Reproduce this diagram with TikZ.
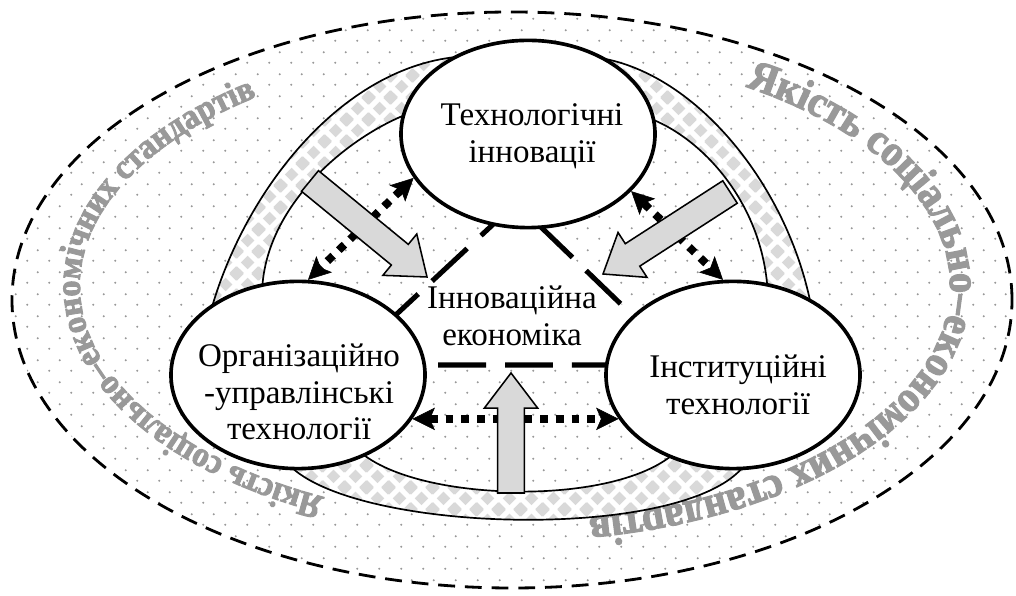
\documentclass[tikz,border=0pt]{standalone}
\usepackage{fontspec}
\setmainfont{Liberation Serif}
\newfontfamily\wordartfam{Liberation Serif}[FakeStretch=0.92, FakeBold=2.6]
\usetikzlibrary{shapes.geometric,patterns,calc,arrows.meta,decorations.text}

\definecolor{wordgray}{gray}{0.6}
\definecolor{dotgray}{gray}{0.6}
\definecolor{checkgray}{gray}{0.85}
\definecolor{arrowgray}{gray}{0.85}

\newcommand{\wordartfont}[1]{\fontsize{#1}{#1}\wordartfam\bfseries\color{wordgray}}
\newcommand{\nodefont}{\fontsize{23.5}{26}\selectfont}

% staggered dots of the outer field
\pgfdeclarepatternformonly{sparsedots}{\pgfpointorigin}{\pgfpoint{15.3pt}{15.3pt}}{\pgfpoint{15.3pt}{15.3pt}}{%
  \pgfpathcircle{\pgfpoint{3.8pt}{3.8pt}}{0.85pt}%
  \pgfpathcircle{\pgfpoint{11.45pt}{11.45pt}}{0.85pt}%
  \pgfusepath{fill}}

% diamonds of the bands
\newcommand{\checkdiamond}[2]{%
  \pgfpathmoveto{\pgfpoint{#1pt}{#2pt-4.9pt}}%
  \pgfpathlineto{\pgfpoint{#1pt+4.9pt}{#2pt}}%
  \pgfpathlineto{\pgfpoint{#1pt}{#2pt+4.9pt}}%
  \pgfpathlineto{\pgfpoint{#1pt-4.9pt}{#2pt}}%
  \pgfpathclose}
\pgfdeclarepatternformonly{checkers}{\pgfpointorigin}{\pgfpoint{15.3pt}{15.3pt}}{\pgfpoint{15.3pt}{15.3pt}}{%
  \checkdiamond{0}{0}\checkdiamond{15.3}{0}\checkdiamond{0}{15.3}\checkdiamond{15.3}{15.3}%
  \checkdiamond{7.65}{7.65}%
  \pgfusepath{fill}}

\begin{document}
\begin{tikzpicture}[x=0.025cm, y=0.025cm, %
    innov/.style={ellipse, draw, line width=2.6pt, fill=white, minimum width=6.35cm, minimum height=4.68cm, inner sep=0pt}, %
    caption/.style={align=center, font=\nodefont, inner sep=0pt}, %
    band/.style={line width=1.2pt, preaction={fill=white}, pattern=checkers, pattern color=checkgray}, %
    triside/.style={line width=3.6pt, dash pattern=on 34pt off 13.5pt, fill=white}, %
    dotarrow/.style={line width=5.6pt, dash pattern=on 5.6pt off 5.6pt, %
      {Stealth[length=16pt,width=16pt,inset=3.5pt,line width=0.4pt]}-{Stealth[length=16pt,width=16pt,inset=3.5pt,line width=0.4pt]}}, %
    bigarrow/.style={fill=arrowgray, draw, line width=1.1pt, line join=miter}, %
  ]
  \useasboundingbox (0,0) rectangle (1016,596);

  % field and its words
  \draw[line width=2pt, dash pattern=on 12pt off 7pt, preaction={fill=white}, pattern=sparsedots, pattern color=dotgray] (512,296) ellipse [x radius=500, y radius=288];

  \coordinate (wordc) at (515,310);
  \foreach \s/\size in {58/31, 244/25}{ %
    \path[decorate, decoration={text along path, text align=left, text={|\wordartfont{\size}|Якість соціально–економічних стандартів}}] %
      ($(wordc)+(\s:435 and 235)$) arc[start angle=\s, delta angle=-175, x radius=435, y radius=235];
  }

  % bands between the ellipses
  \draw[band] (475,540) .. controls (350,540) and (245,410) .. (210,282) %
    -- (262,300) .. controls (262,395) and (360,470) .. (425,488) -- cycle;
  \draw[band] (582,540) .. controls (690,535) and (790,410) .. (812,285) %
    -- (768,298) .. controls (765,400) and (690,470) .. (635,482) -- cycle;
  \draw[band] (282,140) .. controls (330,60) and (710,50) .. (750,140) %
    -- (685,155) .. controls (640,85) and (395,90) .. (350,155) -- cycle;

  % triangle
  \coordinate (apex) at (516,393);
  \coordinate (lcorner) at (342,231);
  \coordinate (rcorner) at (684,231);
  \draw[triside] (apex) -- (lcorner) -- (rcorner) -- cycle;

  \foreach \a/\x/\y/\tx/\ty/\txt in { %
    tech/528/462/532/460/{Технологічні\\інновації}, %
    org/298/221/299/204/{Організаційно\\-управлінські\\технології}, %
    inst/733/221/738/211/{Інституційні\\технології}%
  }{ %
    \node[innov] (\a) at (\x,\y) {};
    \node[caption] (\a-text) at (\tx,\ty) {\txt};
  }
  \node[caption] (econ) at (512,280) {Інноваційна\\економіка};

  \foreach \from/\to in {tech.201/org.84, tech.331/inst.96, org.339/inst.201}{ %
    \draw[dotarrow] (\from) -- (\to);
  }

  \coordinate (ltail) at (310,415);
  \coordinate (ltip) at (427,319);
  \coordinate (rtail) at (730,404);
  \coordinate (rtip) at (603,322);
  \coordinate (btail) at (511,103);
  \coordinate (btip) at (511,223);
  \foreach \t/\h in {ltail/ltip, rtail/rtip, btail/btip}{ %
    \coordinate (hb) at ($(\h)!25pt!(\t)$);
    \draw[bigarrow] ($(\t)!9.5pt!90:(\h)$) -- ($(hb)!9.5pt!-90:(\t)$) -- ($(hb)!19pt!-90:(\t)$) -- (\h) %
      -- ($(hb)!19pt!90:(\t)$) -- ($(hb)!9.5pt!90:(\t)$) -- ($(\t)!9.5pt!-90:(\h)$) -- cycle;
  }
\end{tikzpicture}
\end{document}
